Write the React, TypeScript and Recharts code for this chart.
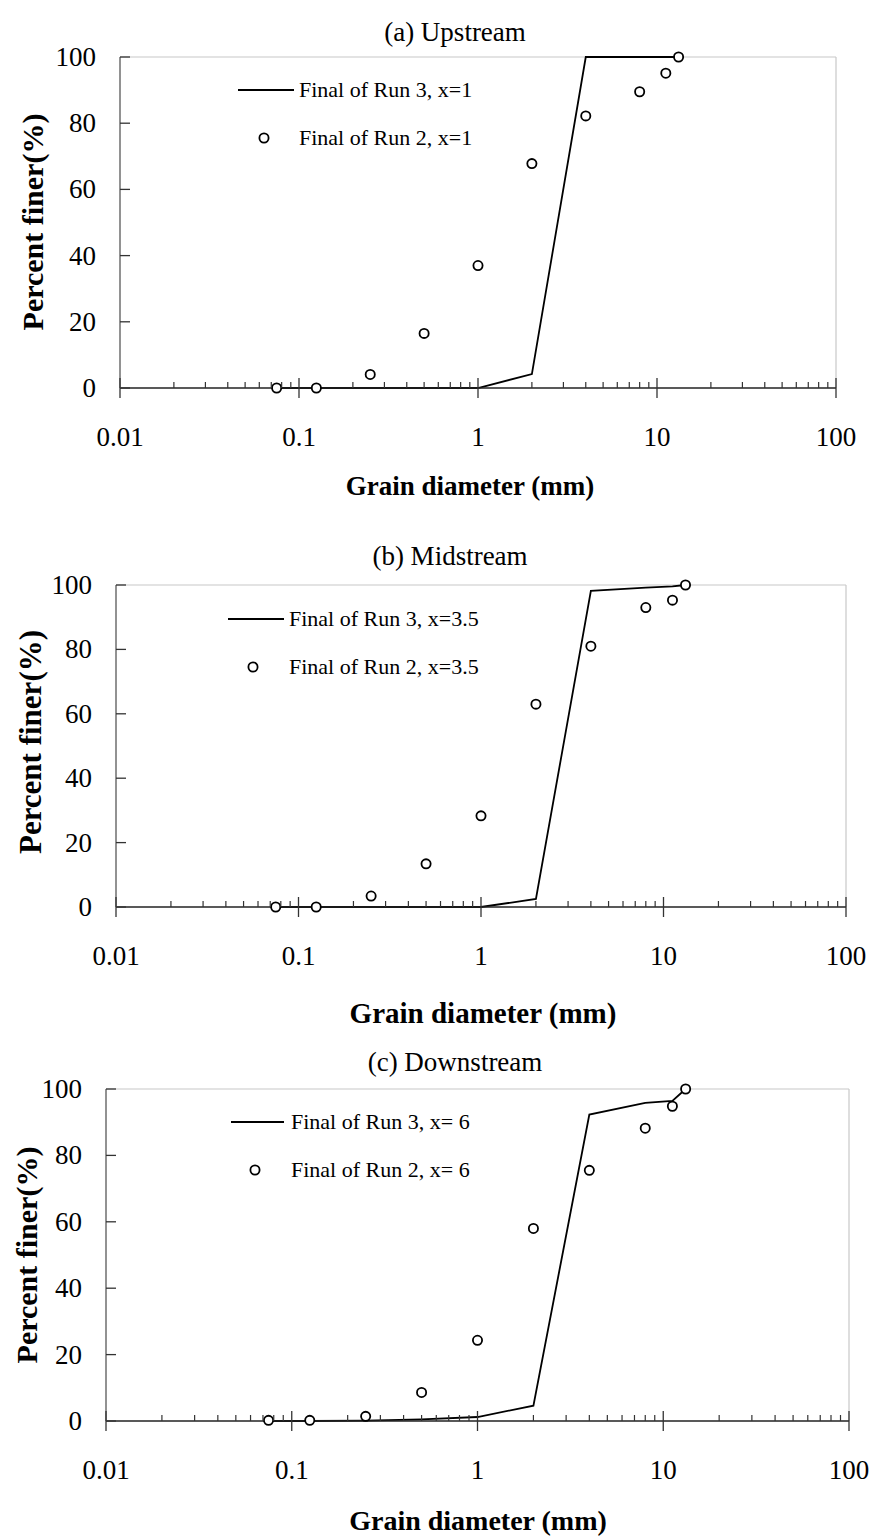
import React from "react";
import {
  ComposedChart,
  Line,
  Scatter,
  XAxis,
  YAxis,
  ReferenceLine,
} from "recharts";

// grain sizes of the sieve classes (mm)
const diameters = [0.075, 0.125, 0.25, 0.5, 1, 2, 4, 8, 11.2, 13.2];

const upRun3 = [0, 0, 0, 0, 0, 4.2, 100, 100, 100, 100];
const upRun2 = [0, 0, 4.1, 16.5, 37, 67.8, 82.2, 89.5, 95.1, 100];

const midRun3 = [0, 0, 0, 0, 0, 2.5, 98.2, 99.2, 99.6, 100];
const midRun2 = [0, 0, 3.4, 13.4, 28.3, 63, 81, 93, 95.3, 100];

const downRun3 = [0, 0, 0.1, 0.5, 1.2, 4.6, 92.3, 95.8, 96.4, 100];
const downRun2 = [0.2, 0.2, 1.4, 8.6, 24.3, 58, 75.5, 88.2, 94.8, 100];

const majorTicks = [0.01, 0.1, 1, 10, 100];
const minorTicks = [
  0.02, 0.03, 0.04, 0.05, 0.06, 0.07, 0.08, 0.09,
  0.2, 0.3, 0.4, 0.5, 0.6, 0.7, 0.8, 0.9,
  2, 3, 4, 5, 6, 7, 8, 9,
  20, 30, 40, 50, 60, 70, 80, 90,
];
const yTicks = [0, 20, 40, 60, 80, 100];

const FONT = '"Liberation Serif", "Times New Roman", serif';
const W = 875;
const AXIS_W = 40;
const AXIS_H = 40;

const toRows = (ys: number[]) => diameters.map((x, i) => ({ x, y: ys[i] }));

const XTick = (props: any) => {
  const { x, y, payload } = props;
  const v = payload.value;
  if (majorTicks.includes(v)) {
    return (
      <g>
        <line x1={x} x2={x} y1={y - 10} y2={y + 10} stroke="#333" strokeWidth={1.3} />
        <text x={x} y={y + 58} textAnchor="middle" fontSize={27} fontFamily={FONT} fill="#000">
          {String(v)}
        </text>
      </g>
    );
  }
  return <line x1={x} x2={x} y1={y - 6} y2={y} stroke="#333" strokeWidth={1.2} />;
};

const YTick = (props: any) => {
  const { x, y, payload } = props;
  return (
    <g>
      <line x1={x} x2={x + 10} y1={y} y2={y} stroke="#333" strokeWidth={1.3} />
      <text x={x - 24} y={y + 9} textAnchor="end" fontSize={27} fontFamily={FONT} fill="#000">
        {payload.value}
      </text>
    </g>
  );
};

const OpenCircle = (props: any) => {
  const { cx, cy } = props;
  if (cx == null || cy == null) return null;
  return <circle cx={cx} cy={cy} r={4.6} fill="#fff" stroke="#000" strokeWidth={1.8} />;
};

interface PanelProps {
  band: { top: number; height: number };
  plot: { left: number; right: number; top: number; bottom: number };
  run3: number[];
  run2: number[];
  title: string;
  titlePos: [number, number];
  yTitlePos: [number, number];
  yTitleSize: number;
  xTitlePos: [number, number];
  xTitleSize: number;
  legend3: string;
  legend2: string;
  legendLine: [number, number, number];
  legendText: number;
  legendCircle: [number, number];
}

function Panel(p: PanelProps) {
  const { band, plot } = p;
  const lineRows = toRows(p.run3);
  const dotRows = toRows(p.run2);
  const margin = {
    top: plot.top - band.top,
    bottom: band.top + band.height - plot.bottom - AXIS_H,
    left: plot.left - AXIS_W,
    right: W - plot.right,
  };
  const abs = (x: number, y: number): React.CSSProperties => ({
    position: "absolute",
    left: x,
    top: y,
    transform: "translate(-50%, -50%)",
    whiteSpace: "nowrap",
    lineHeight: 1,
  });

  return (
    <>
      <div style={{ position: "absolute", left: 0, top: band.top }}>
        <ComposedChart width={W} height={band.height} data={lineRows} margin={margin}>
          <XAxis
            dataKey="x"
            type="number"
            scale="log"
            domain={[0.01, 100]}
            allowDataOverflow
            ticks={[...majorTicks, ...minorTicks]}
            interval={0}
            tick={<XTick />}
            tickLine={false}
            tickSize={0}
            tickMargin={0}
            height={AXIS_H}
            axisLine={{ stroke: "#222", strokeWidth: 1.3 }}
          />
          <YAxis
            type="number"
            domain={[0, 100]}
            ticks={yTicks}
            interval={0}
            tick={<YTick />}
            tickLine={false}
            tickSize={0}
            tickMargin={0}
            width={AXIS_W}
            axisLine={{ stroke: "#777", strokeWidth: 1.6 }}
          />
          <ReferenceLine y={100} stroke="#c8c8c8" strokeWidth={1.2} />
          <ReferenceLine x={100} stroke="#c8c8c8" strokeWidth={1.2} />
          <Line
            type="linear"
            dataKey="y"
            stroke="#000"
            strokeWidth={1.8}
            dot={false}
            isAnimationActive={false}
          />
          <Scatter
            data={dotRows}
            dataKey="y"
            shape={<OpenCircle />}
            isAnimationActive={false}
          />
        </ComposedChart>
      </div>

      <div style={{ ...abs(p.titlePos[0], p.titlePos[1]), fontSize: 27 }}>{p.title}</div>
      <div
        style={{
          ...abs(p.yTitlePos[0], p.yTitlePos[1]),
          transform: "translate(-50%, -50%) rotate(-90deg)",
          fontSize: p.yTitleSize,
          fontWeight: "bold",
        }}
      >
        Percent finer(%)
      </div>
      <div style={{ ...abs(p.xTitlePos[0], p.xTitlePos[1]), fontSize: p.xTitleSize, fontWeight: "bold" }}>
        Grain diameter (mm)
      </div>

      {/* legend */}
      <svg
        style={{ position: "absolute", left: 0, top: 0, overflow: "visible" }}
        width={1}
        height={1}
      >
        <line
          x1={p.legendLine[0]}
          x2={p.legendLine[1]}
          y1={p.legendLine[2]}
          y2={p.legendLine[2]}
          stroke="#000"
          strokeWidth={1.8}
        />
        <circle cx={p.legendCircle[0]} cy={p.legendCircle[1]} r={4.6} fill="#fff" stroke="#000" strokeWidth={1.8} />
        <text x={p.legendText} y={p.legendLine[2] + 7} fontSize={22} fontFamily={FONT}>
          {p.legend3}
        </text>
        <text x={p.legendText} y={p.legendCircle[1] + 7} fontSize={22} fontFamily={FONT}>
          {p.legend2}
        </text>
      </svg>
    </>
  );
}

export default function App() {
  return (
    <div
      style={{
        position: "absolute",
        left: 0,
        top: 0,
        width: W,
        height: 1538,
        background: "#fff",
        fontFamily: FONT,
        color: "#000",
      }}
    >
      <Panel
        band={{ top: 0, height: 505 }}
        plot={{ left: 120, right: 836, top: 57, bottom: 388 }}
        run3={upRun3}
        run2={upRun2}
        title="(a) Upstream"
        titlePos={[455, 32]}
        yTitlePos={[33, 222]}
        yTitleSize={30}
        xTitlePos={[470, 486]}
        xTitleSize={27}
        legend3="Final of Run 3, x=1"
        legend2="Final of Run 2, x=1"
        legendLine={[238, 294, 90]}
        legendText={299}
        legendCircle={[264, 138]}
      />
      <Panel
        band={{ top: 505, height: 525 }}
        plot={{ left: 116, right: 846, top: 585, bottom: 907 }}
        run3={midRun3}
        run2={midRun2}
        title="(b) Midstream"
        titlePos={[450, 556]}
        yTitlePos={[30, 742]}
        yTitleSize={31}
        xTitlePos={[483, 1013]}
        xTitleSize={29}
        legend3="Final of Run 3, x=3.5"
        legend2="Final of Run 2, x=3.5"
        legendLine={[228, 284, 619]}
        legendText={289}
        legendCircle={[253, 667]}
      />
      <Panel
        band={{ top: 1030, height: 508 }}
        plot={{ left: 106, right: 849, top: 1089, bottom: 1421 }}
        run3={downRun3}
        run2={downRun2}
        title="(c) Downstream"
        titlePos={[455, 1062]}
        yTitlePos={[27, 1255]}
        yTitleSize={30}
        xTitlePos={[478, 1521]}
        xTitleSize={28}
        legend3="Final of Run 3, x= 6"
        legend2="Final of Run 2, x= 6"
        legendLine={[231, 284, 1122]}
        legendText={291}
        legendCircle={[255, 1170]}
      />
    </div>
  );
}
